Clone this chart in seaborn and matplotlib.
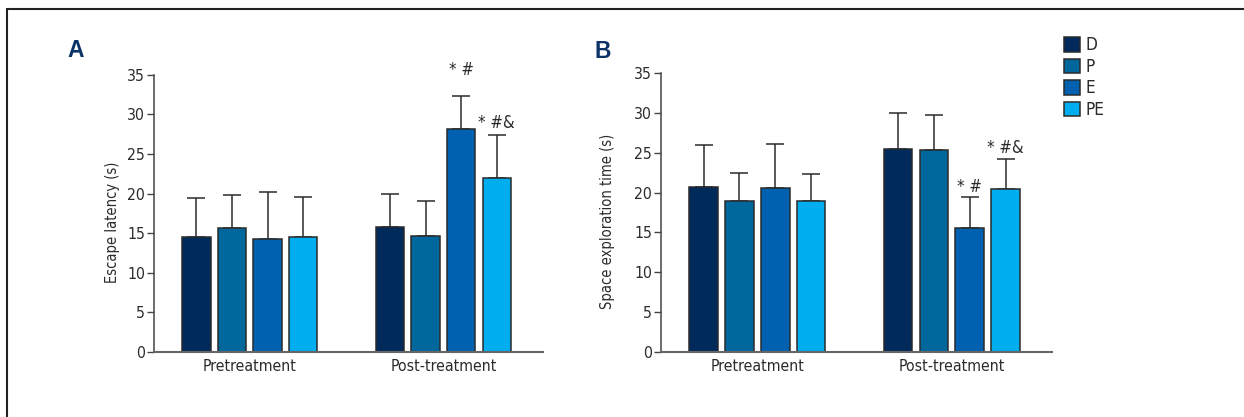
import matplotlib
matplotlib.use('Agg')
import matplotlib.pyplot as plt
import seaborn as sns
import pandas as pd
from matplotlib import font_manager as fm
from matplotlib.lines import Line2D
from matplotlib.patches import Patch
from matplotlib.container import BarContainer

# ---------------- data ----------------
phases = ['Pretreatment', 'Post-treatment']
groups = ['D', 'P', 'E', 'PE']

# Panel A: escape latency (s) -- means and upper error-bar ends
latency_pre = [14.5, 15.6, 14.3, 14.5]
latency_post = [15.8, 14.7, 28.1, 22.0]
latency_pre_top = [19.5, 19.8, 20.2, 19.6]
latency_post_top = [19.9, 19.1, 32.3, 27.4]
latency_post_marks = ['', '', '* #', '* #&']

# Panel B: space exploration time (s)
explore_pre = [20.7, 18.9, 20.6, 18.9]
explore_post = [25.5, 25.3, 15.6, 20.4]
explore_pre_top = [26.0, 22.5, 26.1, 22.3]
explore_post_top = [30.0, 29.7, 19.4, 24.2]
explore_post_marks = ['', '', '* #', '* #&']

y_ticks = [0, 5, 10, 15, 20, 25, 30, 35]

# ---------------- style ----------------
colors = ['#002a5c', '#00679d', '#0061b0', '#00adef']
sns.set_theme(style='white')

# prefer a condensed face if one is installed
condensed = [f for f in fm.fontManager.ttflist
             if ('Narrow' in f.name or 'Condensed' in f.name
                 or str(f.stretch) in ('condensed', 'semi-condensed', '75', '87'))
             and 'Mono' not in f.name and f.weight in (400, 'normal', 'regular')]
if condensed:
    pick = condensed[0]
    plt.rcParams['font.family'] = [pick.name, 'DejaVu Sans']
    plt.rcParams['font.stretch'] = pick.stretch
    NARROW = True
else:
    plt.rcParams['font.family'] = ['DejaVu Sans']
    plt.rcParams['font.stretch'] = 'condensed'
    NARROW = False

FS = 11.3 if NARROW else 10.0
FS_LAB = 10.5 if NARROW else 9.3
FS_LEG = 12.3 if NARROW else 10.5

W, H = 1244, 417
fig = plt.figure(figsize=(W / 100, H / 100), dpi=100)


def fx(px):
    return px / W


def fy(py):
    return 1 - py / H


def panel(ax, pre, post, pre_top, post_top, marks, mark_offsets, ylabel, label_x):
    df = pd.DataFrame({
        'phase': [phases[0]] * len(groups) + [phases[1]] * len(groups),
        'group': groups + groups,
        'value': pre + post,
    })
    sns.barplot(data=df, x='phase', y='value', hue='group', order=phases,
                hue_order=groups, palette=colors, saturation=1, errorbar=None,
                width=0.736, gap=0.2, edgecolor='#2b2b2b', linewidth=1.1,
                legend=False, ax=ax, zorder=2)
    tops = [pre_top, post_top]
    bar_conts = [c for c in ax.containers if isinstance(c, BarContainer)]
    for gi, cont in enumerate(bar_conts):
        for pi, bar in enumerate(cont.patches):
            xc = bar.get_x() + bar.get_width() / 2
            h = bar.get_height()
            up = tops[pi][gi] - h
            ax.errorbar(xc, h, yerr=[[0], [up]], fmt='none', ecolor='#2b2b2b',
                        elinewidth=1.1, capsize=6.5, capthick=1.1, zorder=1)
            if pi == 1 and marks[gi]:
                ax.text(xc, tops[pi][gi] + mark_offsets[gi], marks[gi],
                        ha='center', va='baseline', fontsize=FS + 0.7,
                        color='#2b2b2b')
    ax.set_ylim(0, 35)
    ax.set_xlim(-0.495, 1.515)
    ax.set_yticks(y_ticks)
    ax.set_yticklabels([str(t) for t in y_ticks])
    ax.set_xlabel('')
    ax.set_ylabel(ylabel, fontsize=FS_LAB, color='#2b2b2b')
    ax.yaxis.set_label_coords(label_x, 0.467)
    for s in ['top', 'right']:
        ax.spines[s].set_visible(False)
    ax.spines['left'].set_color('#444444')
    ax.spines['left'].set_linewidth(1.1)
    ax.spines['bottom'].set_color('#666666')
    ax.spines['bottom'].set_linewidth(1.5)
    ax.tick_params(axis='y', which='major', left=True, length=5, width=1.0,
                   color='#444444', pad=1.5, labelsize=FS, labelcolor='#2b2b2b')
    ax.tick_params(axis='x', length=0, pad=5, labelsize=FS, labelcolor='#2b2b2b')
    ax.set_facecolor('white')
    ax.grid(False)


axA = fig.add_axes([fx(154), fy(352), fx(543) - fx(154), fy(74.7) - fy(352)])
axB = fig.add_axes([fx(661), fy(352), fx(1052) - fx(661), fy(73) - fy(352)])

panel(axA, latency_pre, latency_post, latency_pre_top, latency_post_top,
      latency_post_marks, [0, 0, 2.65, 0.88], 'Escape latency (s)', -0.087)
panel(axB, explore_pre, explore_post, explore_pre_top, explore_post_top,
      explore_post_marks, [0, 0, 0.63, 0.76], 'Space exploration time (s)', -0.118)

# panel letters
letter_color = '#0c3365'
fig.text(fx(67), fy(57.3), 'A', fontsize=16.5, fontweight='bold', color=letter_color,
         family=['Liberation Sans', 'DejaVu Sans'], stretch='normal',
         va='baseline', ha='left')
fig.text(fx(595), fy(57.7), 'B', fontsize=16.5, fontweight='bold', color=letter_color,
         family=['Liberation Sans', 'DejaVu Sans'], stretch='normal',
         va='baseline', ha='left')

# legend
hl = 16 / (FS_LEG * 100 / 72)
handles = [Patch(facecolor=c, edgecolor='#2b2b2b', linewidth=1.1, label=g)
           for c, g in zip(colors, groups)]
fig.legend(handles=handles, loc='upper left', bbox_to_anchor=(fx(1064), fy(36.5)),
           bbox_transform=fig.transFigure, frameon=False, fontsize=FS_LEG,
           handlelength=hl, handleheight=hl,
           handletextpad=0.35, labelspacing=0.2, borderpad=0, borderaxespad=0,
           labelcolor='#2b2b2b')

# outer frame (top and left edges)
fig.add_artist(Line2D([fx(6.5), 1.0], [fy(9.3), fy(9.3)], transform=fig.transFigure,
                      color='#222222', linewidth=1.5))
fig.add_artist(Line2D([fx(6.5), fx(6.5)], [0.0, fy(9.3)], transform=fig.transFigure,
                      color='#222222', linewidth=1.5))

fig.savefig('out.png', dpi=100, facecolor='white')
